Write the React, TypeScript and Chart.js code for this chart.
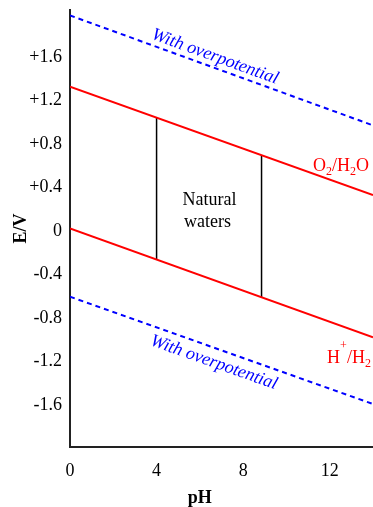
import React, { useEffect, useRef } from 'react';
import { Chart, registerables } from 'chart.js';

Chart.register(...registerables);

// ---- data ----
const phEnds = [0, 14];
const upperOverpotential = [1.98, 0.97];
const o2h2o = [1.325, 0.33];
const hh2 = [0.024, -0.977];
const lowerOverpotential = [-0.604, -1.59];
const naturalPh = [4, 8.85];
const naturalTop = [1.04, 0.697];
const naturalBottom = [-0.26, -0.607];

const xTickValues = [0, 4, 8, 12];
const xTickLabels = ['0', '4', '8', '12'];
const yTickValues = [1.6, 1.2, 0.8, 0.4, 0, -0.4, -0.8, -1.2, -1.6];
const yTickLabels = ['+1.6', '+1.2', '+0.8', '+0.4', '0', '-0.4', '-0.8', '-1.2', '-1.6'];

const SERIF = "'Liberation Serif', 'Times New Roman', serif";

const toPoints = (xs: number[], ys: number[]) => xs.map((v, i) => ({ x: v, y: ys[i] }));

type Part = { t: string; sub?: boolean; sup?: boolean };

const labelsPlugin = {
  id: 'pourbaixLabels',
  afterDatasetsDraw(chart: any) {
    const { ctx, scales } = chart;
    const xs = scales.x;
    const ys = scales.y;
    const px = (v: number) => xs.getPixelForValue(v);
    const py = (v: number) => ys.getPixelForValue(v);

    ctx.save();

    // rotated "With overpotential" labels
    const drawRotated = (text: string, cx: number, cy: number, line: number[]) => {
      const ang = Math.atan2(py(line[1]) - py(line[0]), px(phEnds[1]) - px(phEnds[0]));
      ctx.save();
      ctx.translate(px(cx), py(cy));
      ctx.rotate(ang);
      ctx.font = `italic 18px ${SERIF}`;
      ctx.fillStyle = '#0000ff';
      ctx.textAlign = 'center';
      ctx.textBaseline = 'middle';
      ctx.fillText(text, 0, 0);
      ctx.restore();
    };
    drawRotated('With overpotential', 6.7, 1.6, upperOverpotential);
    drawRotated('With overpotential', 6.65, -1.21, lowerOverpotential);

    // rich text with sub/superscripts
    const drawRich = (parts: Part[], x0: number, y0: number, color: string) => {
      let cx = px(x0);
      const base = py(y0);
      ctx.fillStyle = color;
      ctx.textAlign = 'left';
      ctx.textBaseline = 'alphabetic';
      for (const p of parts) {
        if (p.sub) {
          ctx.font = `12px ${SERIF}`;
          ctx.fillText(p.t, cx, base + 4);
        } else if (p.sup) {
          ctx.font = `12px ${SERIF}`;
          ctx.fillText(p.t, cx, base - 14);
        } else {
          ctx.font = `18px ${SERIF}`;
          ctx.fillText(p.t, cx, base);
        }
        cx += ctx.measureText(p.t).width;
      }
    };
    drawRich([{ t: 'O' }, { t: '2', sub: true }, { t: '/H' }, { t: '2', sub: true }, { t: 'O' }], 11.23, 0.55, '#ff0000');
    drawRich([{ t: 'H' }, { t: '+', sup: true }, { t: '/H' }, { t: '2', sub: true }], 11.88, -1.211, '#ff0000');

    // Natural waters
    ctx.font = `18px ${SERIF}`;
    ctx.fillStyle = '#000';
    ctx.textAlign = 'center';
    ctx.textBaseline = 'alphabetic';
    ctx.fillText('Natural', px(6.45), py(0.238));
    ctx.fillText('waters', px(6.35), py(0.036));

    // x axis title
    ctx.font = `bold 18px ${SERIF}`;
    ctx.fillText('pH', px(6), chart.height - 4);

    ctx.restore();
  },
};

export default function App() {
  const ref = useRef<HTMLCanvasElement | null>(null);

  useEffect(() => {
    document.body.style.margin = '0';
    const canvas = ref.current;
    if (!canvas) return;

    const solid = (data: any, color: string, width: number) => ({
      data,
      borderColor: color,
      backgroundColor: color,
      borderWidth: width,
      showLine: true,
      pointRadius: 0,
      fill: false,
    });

    const chart = new Chart(canvas, {
      type: 'scatter',
      data: {
        datasets: [
          { ...solid(toPoints(phEnds, upperOverpotential), '#0000ff', 2), borderDash: [5, 4] },
          solid(toPoints(phEnds, o2h2o), '#ff0000', 2),
          solid(toPoints(phEnds, hh2), '#ff0000', 2),
          { ...solid(toPoints(phEnds, lowerOverpotential), '#0000ff', 2), borderDash: [5, 4] },
          solid(toPoints([naturalPh[0], naturalPh[0]], [naturalBottom[0], naturalTop[0]]), '#000', 1.5),
          solid(toPoints([naturalPh[1], naturalPh[1]], [naturalBottom[1], naturalTop[1]]), '#000', 1.5),
        ],
      },
      options: {
        animation: false,
        responsive: false,
        devicePixelRatio: 1,
        layout: { padding: { top: 10, right: 0, bottom: 0, left: 0 } },
        plugins: { legend: { display: false }, tooltip: { enabled: false } },
        scales: {
          x: {
            type: 'linear',
            min: 0,
            max: 14,
            grid: { display: false, drawTicks: false },
            border: { display: true, color: '#222', width: 2 },
            afterBuildTicks: (s: any) => {
              s.ticks = xTickValues.map((v) => ({ value: v }));
            },
            afterFit: (s: any) => {
              s.height = 60;
              s.paddingLeft = 0;
              s.paddingRight = 0;
            },
            ticks: {
              padding: 13,
              color: '#000',
              font: { family: SERIF, size: 18 },
              maxRotation: 0,
              callback: (v: any) => xTickLabels[xTickValues.indexOf(Number(v))],
            },
          },
          y: {
            type: 'linear',
            min: -1.985,
            max: 2.03,
            grid: { display: false, drawTicks: false },
            border: { display: true, color: '#222', width: 2 },
            afterBuildTicks: (s: any) => {
              s.ticks = yTickValues.map((v) => ({ value: v }));
            },
            afterFit: (s: any) => {
              s.width = 70;
              s.paddingTop = 0;
              s.paddingBottom = 0;
            },
            ticks: {
              padding: 8,
              color: '#000',
              font: { family: SERIF, size: 18 },
              callback: (v: any) => yTickLabels[yTickValues.indexOf(Number(v))],
            },
            title: {
              display: true,
              text: 'E/V',
              color: '#000',
              font: { family: SERIF, size: 18, weight: 'bold' },
              padding: { top: 11, bottom: 0 },
            },
          },
        },
      },
      plugins: [labelsPlugin],
    } as any);

    return () => chart.destroy();
  }, []);

  return <canvas ref={ref} width={373} height={507} style={{ display: 'block' }} />;
}
